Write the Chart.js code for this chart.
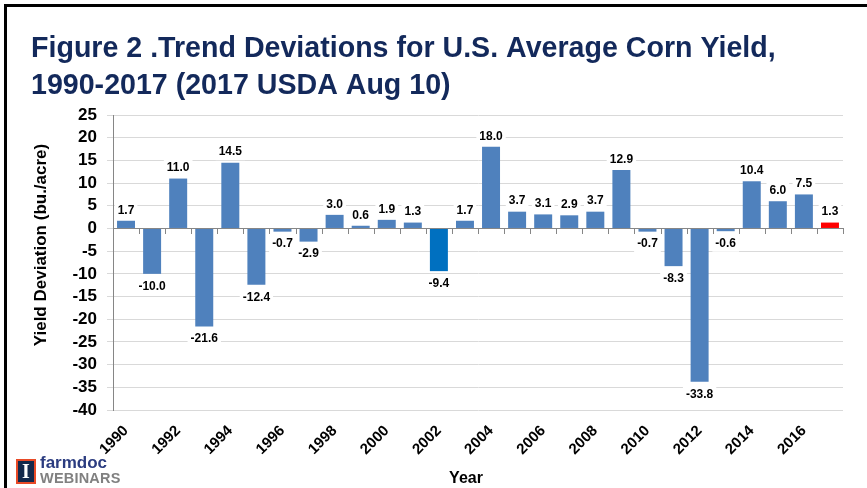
<!DOCTYPE html>
<html>
<head>
<meta charset="utf-8">
<script src="https://cdn.jsdelivr.net/npm/chart.js@4/dist/chart.umd.min.js"></script>
<style>
  html, body { margin: 0; padding: 0; background: #fff; }
  #wrap { position: relative; width: 867px; height: 488px; overflow: hidden; }
  #c { position: absolute; left: 0; top: 0; }
  #frame { position: absolute; left: 4px; top: 4px; right: -10px; bottom: -10px;
           border-left: 3px solid #000; border-top: 3px solid #000; pointer-events: none; }
  #logo { position: absolute; left: 16px; top: 459px; width: 20px; height: 25px; }
  #logo .box { position: absolute; left: 0; top: 0; width: 16px; height: 21px;
               background: #13294B; border: 2px solid #E84A27; }
  #logo .i { position: absolute; left: 0; top: 1px; width: 20px; text-align: center;
             font: bold 20px "Liberation Serif", serif; color: #fff; line-height: 22px; }
  #farm { position: absolute; left: 40px; top: 454px; font: bold 17px "Liberation Sans", Arial, sans-serif;
          color: #2B3C80; line-height: 18px; }
  #web { position: absolute; left: 40px; top: 470px; font: bold 14.5px "Liberation Sans", Arial, sans-serif;
         color: #808080; line-height: 16px; letter-spacing: 0.2px; }
</style>
</head>
<body>
<div id="wrap">
  <canvas id="c" width="867" height="488"></canvas>
  <div id="frame"></div>
  <div id="logo"><div class="box"></div><div class="i">I</div></div>
  <div id="farm">farmdoc</div>
  <div id="web">WEBINARS</div>
</div>
<script>
const titleLines = ["Figure 2 .Trend Deviations for U.S. Average Corn Yield,", "1990-2017 (2017 USDA Aug 10)"];
const yAxisTitle = "Yield Deviation (bu./acre)";
const xAxisTitle = "Year";
const years = ["1990","1991","1992","1993","1994","1995","1996","1997","1998","1999",
               "2000","2001","2002","2003","2004","2005","2006","2007","2008","2009",
               "2010","2011","2012","2013","2014","2015","2016","2017"];
const deviations = [1.7, -10.0, 11.0, -21.6, 14.5, -12.4, -0.7, -2.9, 3.0, 0.6,
                    1.9, 1.3, -9.4, 1.7, 18.0, 3.7, 3.1, 2.9, 3.7, 12.9,
                    -0.7, -8.3, -33.8, -0.6, 10.4, 6.0, 7.5, 1.3];
const yTicks = [25, 20, 15, 10, 5, 0, -5, -10, -15, -20, -25, -30, -35, -40];

const BASE = '"Liberation Sans", Arial, sans-serif';
const barColors = years.map(y => y === "2017" ? "#FF0000" : (y === "2002" ? "#0070C0" : "#4F81BD"));

const decoPlugin = {
  id: 'deco',
  afterDatasetsDraw(chart) {
    const ctx = chart.ctx;
    const xs = chart.scales.x, ys = chart.scales.y;
    const y0 = ys.getPixelForValue(0);
    const n = years.length;
    ctx.save();
    // zero line + category tick marks
    ctx.strokeStyle = '#868686';
    ctx.lineWidth = 1;
    ctx.beginPath();
    ctx.moveTo(xs.left, Math.round(y0) + 0.5);
    ctx.lineTo(xs.right, Math.round(y0) + 0.5);
    for (let i = 0; i <= n; i++) {
      let x;
      if (i === 0) x = xs.left;
      else if (i === n) x = xs.right;
      else x = (xs.getPixelForValue(i - 1) + xs.getPixelForValue(i)) / 2;
      x = Math.round(x) + 0.5;
      ctx.moveTo(x, Math.round(y0));
      ctx.lineTo(x, Math.round(y0) + 6);
    }
    ctx.stroke();
    // value labels
    const meta = chart.getDatasetMeta(0);
    ctx.font = 'bold 12px ' + BASE;
    ctx.textAlign = 'center';
    ctx.textBaseline = 'middle';
    meta.data.forEach((bar, i) => {
      const v = deviations[i];
      const txt = v.toFixed(1);
      const y = v >= 0 ? bar.y - 10.5 : bar.y + 12.5;
      const w = ctx.measureText(txt).width;
      ctx.fillStyle = '#fff';
      ctx.fillRect(bar.x - w / 2 - 3, y - 8, w + 6, 16);
      ctx.fillStyle = '#000';
      ctx.fillText(txt, bar.x, y);
    });
    // axis titles
    ctx.fillStyle = '#000';
    ctx.font = 'bold 16px ' + BASE;
    ctx.fillText(xAxisTitle, 466, 479);
    ctx.save();
    ctx.translate(41, 245);
    ctx.rotate(-Math.PI / 2);
    ctx.font = 'bold 17px ' + BASE;
    ctx.fillText(yAxisTitle, 0, 0);
    ctx.restore();
    ctx.restore();
  }
};

new Chart(document.getElementById('c'), {
  type: 'bar',
  data: {
    labels: years,
    datasets: [{
      data: deviations,
      backgroundColor: barColors,
      borderWidth: 0,
      categoryPercentage: 1.0,
      barPercentage: 0.69
    }]
  },
  options: {
    responsive: false,
    animation: false,
    devicePixelRatio: 1,
    layout: { padding: { left: 31, right: 24, top: 0, bottom: 0 } },
    plugins: {
      legend: { display: false },
      tooltip: { enabled: false },
      title: {
        display: true,
        text: titleLines,
        align: 'start',
        color: '#13295B',
        font: { family: '"Liberation Sans Narrow", "Arial Narrow", sans-serif', size: 28.6, weight: 'bold', lineHeight: 1.28 },
        padding: { top: 31, bottom: 10.8 }
      }
    },
    scales: {
      x: {
        grid: { display: false, drawTicks: false },
        border: { display: false },
        ticks: {
          autoSkip: false,
          maxRotation: 45,
          minRotation: 45,
          padding: 12,
          color: '#000',
          font: { family: BASE, size: 15, weight: 'bold' },
          callback: (v, i) => (i % 2 === 0 ? years[i] : '')
        },
        afterFit: s => { s.height = 78; }
      },
      y: {
        min: -40,
        max: 25,
        afterBuildTicks: s => { s.ticks = yTicks.map(v => ({ value: v })); },
        grid: {
          color: '#D9D9D9',
          tickColor: '#D9D9D9',
          tickLength: 6
        },
        border: { display: true, color: '#868686' },
        ticks: {
          autoSkip: false,
          padding: 10,
          color: '#000',
          font: { family: BASE, size: 17, weight: 'bold' }
        },
        afterFit: s => { s.width = 82; }
      }
    }
  },
  plugins: [decoPlugin]
});
</script>
</body>
</html>
